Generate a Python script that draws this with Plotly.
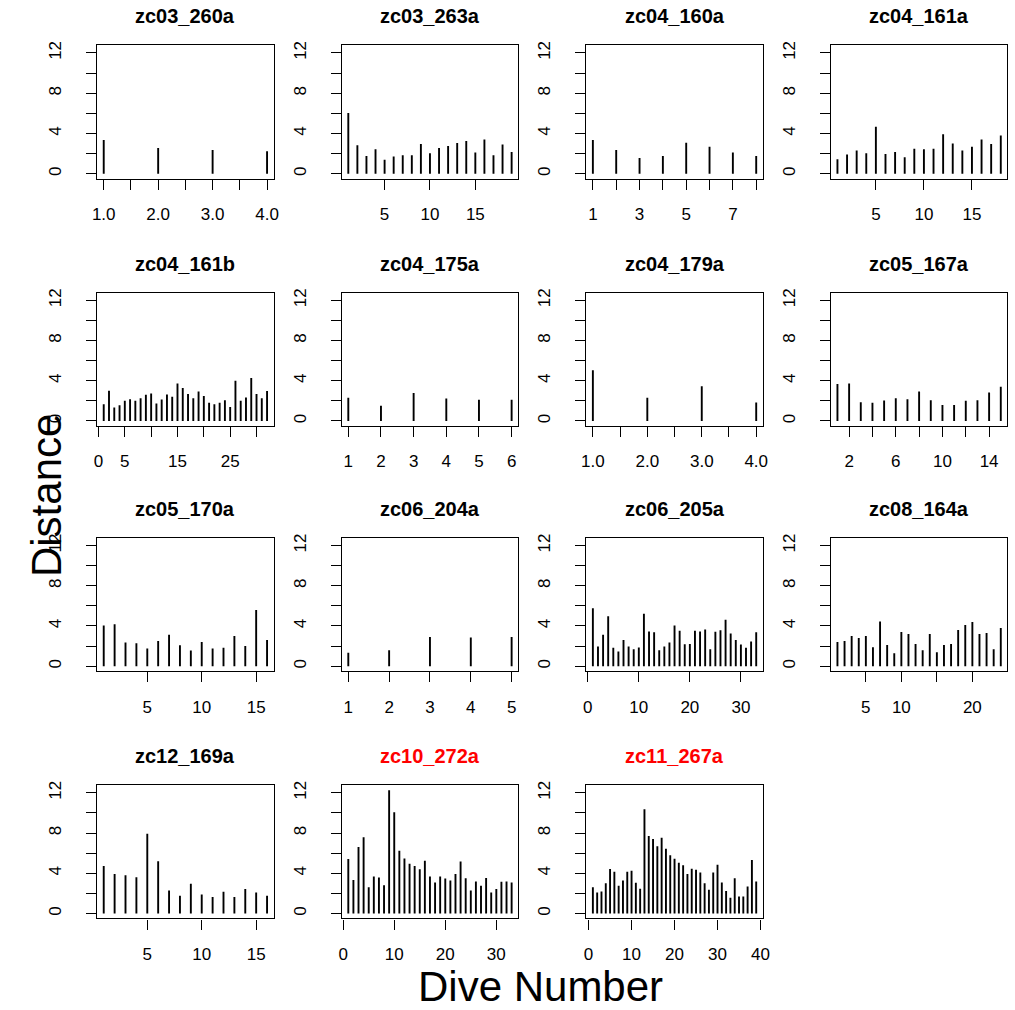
import plotly.graph_objects as go

W, H = 1015, 1010

# ---- distance per dive, one list per tag ----
zc03_260a = [3.34, 2.56, 2.36, 2.23]
zc03_263a = [6.03, 2.82, 1.77, 2.43, 1.38, 1.70, 1.84, 1.84, 2.95, 2.03,
             2.56, 2.75, 3.05, 3.25, 2.10, 3.41, 1.84, 2.89, 2.16]
zc04_160a = [3.34, 2.36, 1.57, 1.77, 3.08, 2.69, 2.10, 1.77]
zc04_161a = [1.44, 1.90, 2.30, 2.03, 4.66, 1.97, 2.16, 1.64, 2.49, 2.43,
             2.49, 3.93, 3.00, 2.30, 2.69, 3.41, 2.95, 3.80]
zc04_161b = [1.67, 3.00, 1.33, 1.57, 2.00, 2.17, 2.00, 2.27, 2.60, 2.73,
             1.73, 2.13, 2.63, 2.40, 3.73, 3.27, 2.67, 2.27, 2.93, 2.47,
             1.80, 1.67, 1.80, 2.07, 1.40, 4.00, 2.00, 2.33, 4.27, 2.67,
             2.27, 2.97]
zc04_175a = [2.30, 1.51, 2.79, 2.23, 2.10, 2.10]
zc04_179a = [5.05, 2.30, 3.44, 1.84]
zc05_167a = [3.67, 3.73, 1.87, 1.80, 2.03, 2.27, 2.17, 2.93, 2.07, 1.60,
             1.60, 2.00, 2.07, 2.83, 3.40]
zc05_170a = [4.04, 4.17, 2.35, 2.28, 1.76, 2.50, 3.13, 2.09, 1.57, 2.41,
             1.76, 1.83, 3.00, 2.02, 5.60, 2.60]
zc06_204a = [1.35, 1.60, 2.90, 2.85, 2.90]
zc06_205a = [5.77, 1.96, 3.13, 4.96, 1.83, 1.47, 2.61, 1.96, 1.70, 1.86,
             5.22, 3.46, 3.39, 1.60, 1.96, 2.35, 4.04, 3.52, 2.18, 2.22,
             3.52, 3.46, 3.65, 1.70, 3.42, 3.59, 4.63, 3.26, 2.61, 2.15,
             1.83, 2.45, 3.39]
zc08_164a = [2.40, 2.50, 3.00, 2.80, 3.00, 1.90, 4.45, 2.10, 1.30, 3.40,
             3.20, 2.20, 1.60, 3.20, 1.40, 2.10, 2.20, 3.60, 4.10, 4.40,
             3.20, 3.30, 1.70, 3.80]
zc12_169a = [4.72, 3.93, 3.80, 3.60, 7.93, 5.20, 2.30, 1.77, 2.95, 1.90,
             1.64, 2.16, 1.64, 2.43, 2.10, 1.77]
zc10_272a = [5.41, 3.34, 6.62, 7.57, 2.62, 3.67, 3.57, 2.82, 12.25, 10.07,
             6.23, 5.48, 4.95, 4.72, 4.39, 5.25, 3.67, 3.08, 3.67, 3.48,
             3.28, 3.93, 5.18, 3.51, 2.30, 3.18, 2.75, 3.54, 2.10, 2.43,
             3.15, 3.18, 3.08]
zc11_267a = [2.62, 2.10, 2.20, 3.02, 4.43, 4.16, 2.75, 3.28, 4.16, 4.26,
             3.05, 2.46, 10.36, 7.70, 7.41, 6.69, 7.54, 6.43, 5.80, 5.44,
             5.05, 4.79, 3.93, 4.46, 4.36, 4.07, 3.00, 2.36, 4.07, 4.85,
             3.08, 2.23, 1.57, 3.51, 1.70, 1.70, 2.69, 5.31, 3.18]

panel_names = ["zc03_260a", "zc03_263a", "zc04_160a", "zc04_161a",
               "zc04_161b", "zc04_175a", "zc04_179a", "zc05_167a",
               "zc05_170a", "zc06_204a", "zc06_205a", "zc08_164a",
               "zc12_169a", "zc10_272a", "zc11_267a"]
panel_values = [zc03_260a, zc03_263a, zc04_160a, zc04_161a,
                zc04_161b, zc04_175a, zc04_179a, zc05_167a,
                zc05_170a, zc06_204a, zc06_205a, zc08_164a,
                zc12_169a, zc10_272a, zc11_267a]
title_colors = ["black"] * 13 + ["red", "red"]

# ---- x tick positions and the labels that fit ----
half_ticks = [1.0, 1.5, 2.0, 2.5, 3.0, 3.5, 4.0]
half_text = ["1.0", "", "2.0", "", "3.0", "", "4.0"]
x_tick_vals = [
    half_ticks, [5, 10, 15], list(range(1, 9)), [5, 10, 15],
    [0, 5, 10, 15, 20, 25, 30], list(range(1, 7)), half_ticks,
    [2, 4, 6, 8, 10, 12, 14],
    [5, 10, 15], [1, 2, 3, 4, 5], [0, 10, 20, 30], [5, 10, 15, 20],
    [5, 10, 15], [0, 10, 20, 30], [0, 10, 20, 30, 40],
]
x_tick_text = [
    half_text, ["5", "10", "15"], ["1", "", "3", "", "5", "", "7", ""],
    ["5", "10", "15"],
    ["0", "5", "", "15", "", "25", ""], ["1", "2", "3", "4", "5", "6"],
    half_text, ["2", "", "6", "", "10", "", "14"],
    ["5", "10", "15"], ["1", "2", "3", "4", "5"], ["0", "10", "20", "30"],
    ["5", "10", "", "20"],
    ["5", "10", "15"], ["0", "10", "20", "30"], ["0", "10", "20", "30", "40"],
]
y_tick_vals = [0, 2, 4, 6, 8, 10, 12]
y_tick_text = ["0", "", "4", "", "8", "", "12"]
y_max = 12.25

# ---- panel geometry (pixels) ----
COL_LEFT = [93.3, 340.8, 588.3, 835.8]
ROW_TOP = [40.7, 289.2, 535.7, 784.2]
BOX_W = 178.5
BOX_H = 133.8

FONT = "Liberation Sans, Arial, Helvetica, sans-serif"
tick_font = dict(family=FONT, size=17, color="black")

fig = go.Figure()
layout = {}
annotations = []

for i, (name, vals) in enumerate(zip(panel_names, panel_values)):
    r, c = divmod(i, 4)
    sfx = "" if i == 0 else str(i + 1)
    x0 = COL_LEFT[c] / W
    x1 = (COL_LEFT[c] + BOX_W) / W
    y1 = 1 - ROW_TOP[r] / H
    y0 = 1 - (ROW_TOP[r] + BOX_H) / H

    # vertical "type h" lines from 0 up to each value
    xs, ys = [], []
    for k, v in enumerate(vals, start=1):
        xs += [k, k, None]
        ys += [0, v, None]
    fig.add_trace(go.Scatter(
        x=xs, y=ys, mode="lines",
        line=dict(color="black", width=1.9),
        xaxis="x" + sfx, yaxis="y" + sfx,
        hoverinfo="skip", showlegend=False,
    ))

    n = len(vals)
    pad = 0.04 * (n - 1)
    layout["xaxis" + sfx] = dict(
        domain=[x0, x1], anchor="y" + sfx,
        range=[1 - pad, n + pad],
        tickmode="array", tickvals=x_tick_vals[i], ticktext=x_tick_text[i],
        ticks="outside", ticklen=10, tickwidth=1.3, tickcolor="black",
        showline=True, mirror=True, linecolor="black", linewidth=1.3,
        showgrid=False, zeroline=False, tickfont=tick_font,
        ticklabelstandoff=10, fixedrange=True,
    )
    ypad = 0.04 * y_max
    layout["yaxis" + sfx] = dict(
        domain=[y0, y1], anchor="x" + sfx,
        range=[-ypad, y_max + ypad],
        tickmode="array", tickvals=y_tick_vals, ticktext=y_tick_text,
        tickangle=-90,
        ticks="outside", ticklen=10, tickwidth=1.3, tickcolor="black",
        showline=True, mirror=True, linecolor="black", linewidth=1.3,
        showgrid=False, zeroline=False, tickfont=tick_font,
        ticklabelstandoff=18, fixedrange=True,
    )

    annotations.append(dict(
        text="<b>" + name + "</b>", x=(x0 + x1) / 2, y=y1,
        xref="paper", yref="paper", xanchor="center", yanchor="middle",
        yshift=29, showarrow=False,
        font=dict(family=FONT, size=20, color=title_colors[i]),
    ))

annotations.append(dict(
    text="Distance", x=42 / W, y=1 - 493 / H, xref="paper", yref="paper",
    xanchor="center", yanchor="middle", textangle=-90, showarrow=False,
    font=dict(family=FONT, size=42, color="black"),
))
annotations.append(dict(
    text="Dive Number", x=542 / W, y=1 - 986 / H, xref="paper", yref="paper",
    xanchor="center", yanchor="middle", showarrow=False,
    font=dict(family=FONT, size=42, color="black"),
))

fig.update_layout(
    width=W, height=H,
    margin=dict(l=0, r=0, t=0, b=0),
    paper_bgcolor="white", plot_bgcolor="white",
    annotations=annotations,
    **layout,
)

fig.write_html("out.html")
